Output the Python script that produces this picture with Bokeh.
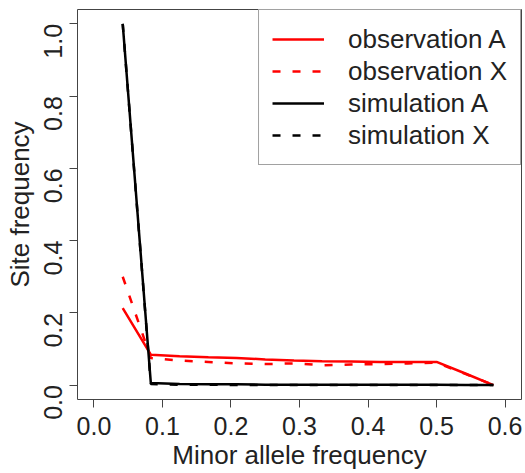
import math
from bokeh.plotting import figure
from bokeh.models import Range1d, FixedTicker, Legend, LegendItem
from bokeh.embed import file_html
from bokeh.resources import INLINE

# ---- data ----
maf = [0.042, 0.083, 0.125, 0.167, 0.208, 0.250, 0.292, 0.333, 0.375, 0.417, 0.458, 0.500, 0.542, 0.583]
obs_A = [0.213, 0.084, 0.080, 0.077, 0.075, 0.071, 0.068, 0.066, 0.065, 0.064, 0.064, 0.064, 0.032, 0.0]
obs_X = [0.300, 0.075, 0.068, 0.064, 0.060, 0.058, 0.060, 0.055, 0.057, 0.058, 0.060, 0.062, 0.031, 0.0]
sim_A = [1.000, 0.006, 0.003, 0.002, 0.002, 0.001, 0.001, 0.001, 0.001, 0.001, 0.001, 0.001, 0.0, 0.0]
sim_X = [1.000, 0.003, 0.001, 0.001, 0.000, 0.000, 0.000, 0.000, 0.000, 0.000, 0.000, 0.000, 0.0, 0.0]
x_ticks = [0.0, 0.1, 0.2, 0.3, 0.4, 0.5, 0.6]
y_ticks = [0.0, 0.2, 0.4, 0.6, 0.8, 1.0]
labels = ["observation A", "observation X", "simulation A", "simulation X"]

FONT = "Liberation Sans"
DASH = "8 12"

p = figure(width=522, height=472, output_backend="svg", toolbar_location=None,
           x_range=Range1d(-0.024, 0.624), y_range=Range1d(-0.04, 1.04),
           min_border_left=77, min_border_right=1, min_border_top=9, min_border_bottom=67)
p.background_fill_color = "white"
p.border_fill_color = "white"
p.outline_line_color = "#444444"
p.outline_line_width = 1
p.grid.visible = False

r1 = p.line(maf, obs_A, line_color="red", line_width=2.5)
r2 = p.line(maf, obs_X, line_color="red", line_width=2.5, line_dash=DASH)
r3 = p.line(maf, sim_A, line_color="black", line_width=2.5)
r4 = p.line(maf, sim_X, line_color="black", line_width=2.5, line_dash=DASH)

for ax in (p.xaxis[0], p.yaxis[0]):
    ax.axis_line_color = None
    ax.major_tick_out = 8
    ax.major_tick_in = 0
    ax.major_tick_line_color = "#444444"
    ax.minor_tick_line_color = None
    ax.major_label_text_font = FONT
    ax.major_label_text_font_size = "25px"
    ax.major_label_text_color = "#222222"
    ax.axis_label_text_font = FONT
    ax.axis_label_text_font_size = "26px"
    ax.axis_label_text_font_style = "normal"
    ax.axis_label_text_color = "#222222"

p.xaxis[0].ticker = FixedTicker(ticks=x_ticks)
p.yaxis[0].ticker = FixedTicker(ticks=y_ticks)
p.xaxis[0].major_label_overrides = {t: f"{t:.1f}" for t in x_ticks}
p.yaxis[0].major_label_overrides = {t: f"{t:.1f}" for t in y_ticks}
p.yaxis[0].major_label_orientation = math.pi / 2
p.xaxis[0].axis_label = "Minor allele frequency"
p.yaxis[0].axis_label = "Site frequency"
p.xaxis[0].major_label_standoff = 9
p.yaxis[0].major_label_standoff = 16
p.xaxis[0].axis_label_standoff = 2
p.yaxis[0].axis_label_standoff = -2

legend = Legend(items=[LegendItem(label=l, renderers=[r]) for l, r in zip(labels, [r1, r2, r3, r4])],
                location="top_right")
legend.margin = 0
legend.padding = 13
legend.spacing = 0
legend.glyph_width = 52
legend.glyph_height = 32
legend.label_height = 32
legend.label_standoff = 24
legend.label_text_font = FONT
legend.label_text_font_size = "26px"
legend.label_text_color = "#222222"
legend.border_line_color = "#444444"
legend.border_line_width = 1
legend.background_fill_alpha = 1.0
p.add_layout(legend)

open("out.html", "w").write(file_html(p, INLINE))
